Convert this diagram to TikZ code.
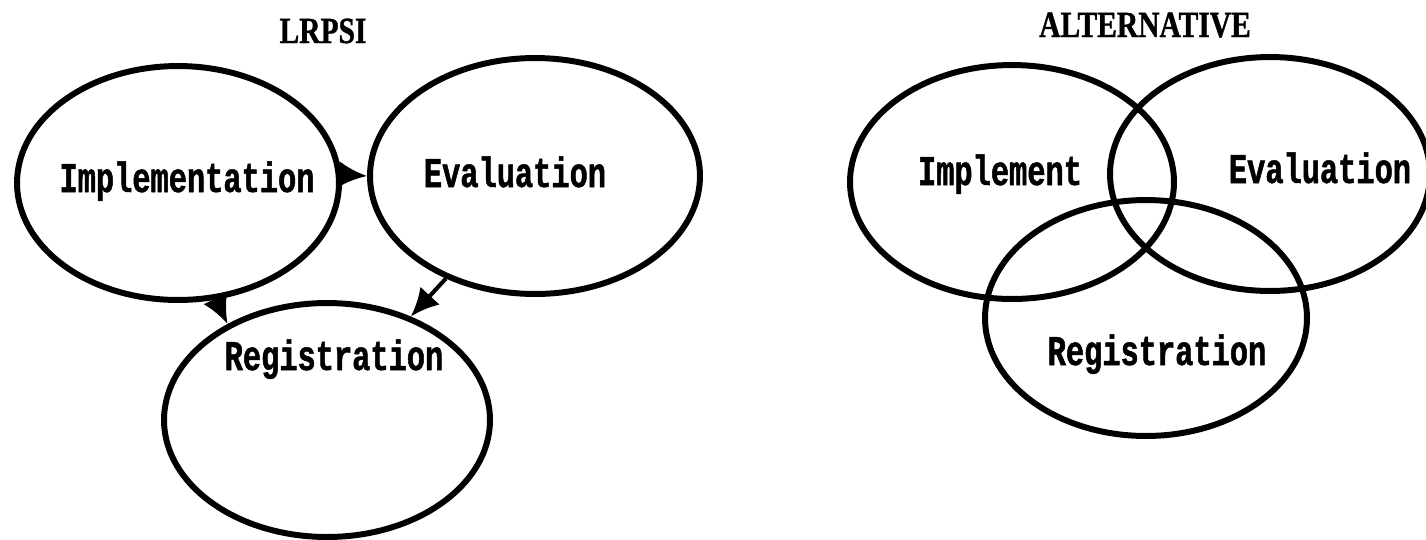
\documentclass[tikz,border=0pt]{standalone}
\usepackage{fontspec}
\usepackage{tikz}
\usetikzlibrary{shapes.geometric,arrows.meta}
\newfontfamily\typefont[FakeStretch=0.72, BoldFeatures={FakeBold=1.2}]{Liberation Mono}
\newfontfamily\headfont[FakeStretch=0.8, BoldFeatures={FakeBold=1}]{Liberation Serif}

\begin{document}
\begin{tikzpicture}
            [
                x=0.02cm, y=-0.02cm,
                bubble/.style={draw, ellipse, line width=3.4pt, inner sep=0pt},
                word/.style={anchor=base, font={\typefont\bfseries\fontsize{24}{28}\selectfont}},
                heading/.style={anchor=base, font={\headfont\bfseries\fontsize{21}{24}\selectfont}},
                link/.style={->, line width=2.3pt},
                >={Latex[length=16pt,width=15pt]}
            ]
            \useasboundingbox (0,0) rectangle (1426,539);

            % LRPSI
            \node[heading] (lrpsi) at (323,43) {LRPSI};
            \node[bubble, minimum width=6.44cm, minimum height=4.68cm] (impl) at (178,183) {};
            \node[bubble, minimum width=6.6cm, minimum height=4.72cm] (eval) at (535,176) {};
            \node[bubble, minimum width=6.52cm, minimum height=4.68cm] (reg) at (327,420) {};
            \node[word] (impl text) at (187,192) {Implementation};
            \node[word] (eval text) at (515,187) {Evaluation};
            \node[word] (reg text) at (334,370) {Registration};
            \draw[link] (impl.3) -- (eval.180);
            \draw[link] (impl.288) -- (reg.136);
            \draw[link] (eval.229) -- (reg.51);

            % ALTERNATIVE
            \node[heading] (alt) at (1145,37) {ALTERNATIVE};
            \node[bubble, minimum width=6.48cm, minimum height=4.68cm] (alt impl) at (1012,182) {};
            \node[bubble, minimum width=6.4cm, minimum height=4.68cm] (alt eval) at (1270,174) {};
            \node[bubble, minimum width=6.44cm, minimum height=4.72cm] (alt reg) at (1146,318) {};
            \node[word] (alt impl text) at (1000,185) {Implement};
            \node[word] (alt eval text) at (1320,183) {Evaluation};
            \node[word] (alt reg text) at (1157,365) {Registration};
\end{tikzpicture}
\end{document}
